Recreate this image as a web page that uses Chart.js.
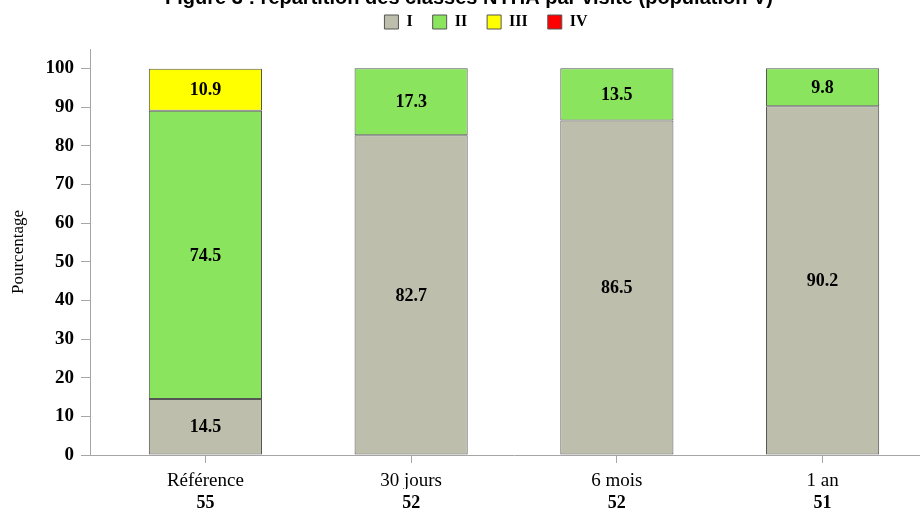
<!DOCTYPE html>
<html lang="fr">
<head>
<meta charset="utf-8">
<title>Classes NYHA par visite</title>
<script src="https://cdn.jsdelivr.net/npm/chart.js@4.4.1/dist/chart.umd.min.js"></script>
<style>
  html, body { margin: 0; padding: 0; background: #fff; }
  #frame { position: relative; width: 920px; height: 511px; overflow: hidden; }
  #frame canvas { position: absolute; left: 0; top: -20px; }
</style>
</head>
<body>
<div id="frame">
  <canvas id="nyhaChart" width="972" height="531"></canvas>
</div>
<script>
// Visites et effectifs
const visites = ["Référence", "30 jours", "6 mois", "1 an"];
const effectifs = [55, 52, 52, 51];

// Pourcentages par classe NYHA
const classeI = [14.5, 82.7, 86.5, 90.2];
const classeII = [74.5, 17.3, 13.5, 9.8];
const classeIII = [10.9, 0, 0, 0];
const classeIV = [0, 0, 0, 0];

const yTicks = [0, 10, 20, 30, 40, 50, 60, 70, 80, 90, 100];

const SERIF = "'Liberation Serif', 'Times New Roman', serif";
const AXIS_GREY = "#a6a6a6";

// x positions are the visit indexes on a linear scale
function toPoints(values) {
  return values.map((v, i) => ({ x: i, y: v }));
}

function visitTicks(scale) {
  scale.ticks = visites.map((_, i) => ({ value: i }));
}

// Value printed in the middle of each segment
const segmentLabels = {
  id: "segmentLabels",
  afterDatasetsDraw(chart) {
    const ctx = chart.ctx;
    ctx.save();
    ctx.font = `bold 18px ${SERIF}`;
    ctx.fillStyle = "#000";
    ctx.textAlign = "center";
    ctx.textBaseline = "middle";
    chart.data.datasets.forEach((ds, di) => {
      const meta = chart.getDatasetMeta(di);
      meta.data.forEach((bar, i) => {
        const v = ds.data[i].y;
        if (!v) return;
        ctx.fillText(v.toFixed(1), bar.x, (bar.y + bar.base) / 2 + 1);
      });
    });
    ctx.restore();
  }
};

// Extra room under the legend, legend centred on the full canvas width
const layoutTweaks = {
  id: "layoutTweaks",
  beforeInit(chart) {
    const fit = chart.legend.fit;
    chart.legend.fit = function () {
      fit.call(this);
      this.height += 9;
    };
  },
  afterLayout(chart) {
    chart.legend.right += 34;
  }
};

const ctx = document.getElementById("nyhaChart").getContext("2d");

new Chart(ctx, {
  type: "bar",
  data: {
    datasets: [
      { label: "I", data: toPoints(classeI), backgroundColor: "#bdbeac" },
      { label: "II", data: toPoints(classeII), backgroundColor: "#8ae45e" },
      { label: "III", data: toPoints(classeIII), backgroundColor: "#ffff00" },
      { label: "IV", data: toPoints(classeIV), backgroundColor: "#ff0000" }
    ].map((ds) => ({
      ...ds,
      borderColor: "#555555",
      borderWidth: 1,
      borderSkipped: false,
      barPercentage: 1,
      categoryPercentage: 0.55
    }))
  },
  options: {
    responsive: false,
    animation: false,
    layout: { padding: { left: 0, right: 34, top: 0, bottom: 0 } },
    plugins: {
      title: {
        display: true,
        text: "Figure 3 : répartition des classes NYHA par visite (population V)",
        color: "#000",
        font: { family: "'Liberation Sans', Arial, sans-serif", size: 20, weight: "bold" },
        padding: { top: 6, bottom: -16 }
      },
      legend: {
        position: "top",
        labels: {
          color: "#000",
          font: { family: SERIF, size: 16, weight: "bold" },
          boxWidth: 14,
          boxHeight: 14,
          padding: 20
        }
      },
      tooltip: { enabled: false }
    },
    scales: {
      x: {
        type: "linear",
        stacked: true,
        min: -0.561,
        max: 3.561,
        offset: false,
        weight: 0,
        afterBuildTicks: visitTicks,
        afterFit(scale) { scale.height = 34; },
        border: { color: AXIS_GREY },
        grid: { display: true, drawOnChartArea: false, offset: false, tickLength: 8, color: AXIS_GREY },
        ticks: {
          color: "#000",
          font: { family: SERIF, size: 19 },
          padding: 7,
          maxRotation: 0,
          callback: (v) => visites[v]
        }
      },
      n: {
        type: "linear",
        position: "bottom",
        min: -0.561,
        max: 3.561,
        offset: false,
        weight: 1,
        afterBuildTicks: visitTicks,
        afterFit(scale) { scale.height = 22; },
        border: { display: false },
        grid: { display: false, drawTicks: false, offset: false },
        ticks: {
          color: "#000",
          font: { family: SERIF, size: 18, weight: "bold" },
          padding: 4,
          maxRotation: 0,
          callback: (v) => effectifs[v]
        }
      },
      y: {
        stacked: true,
        min: 0,
        max: 105,
        afterBuildTicks(scale) { scale.ticks = yTicks.map((value) => ({ value })); },
        afterFit(scale) { scale.width = 90; },
        border: { color: AXIS_GREY },
        grid: { drawOnChartArea: false, tickLength: 9, color: AXIS_GREY },
        title: {
          display: true,
          text: "Pourcentage",
          color: "#000",
          font: { family: SERIF, size: 17 },
          padding: { top: 8, bottom: 0 }
        },
        ticks: {
          color: "#000",
          font: { family: SERIF, size: 19, weight: "bold" },
          padding: 7
        }
      }
    }
  },
  plugins: [segmentLabels, layoutTweaks]
});
</script>
</body>
</html>
